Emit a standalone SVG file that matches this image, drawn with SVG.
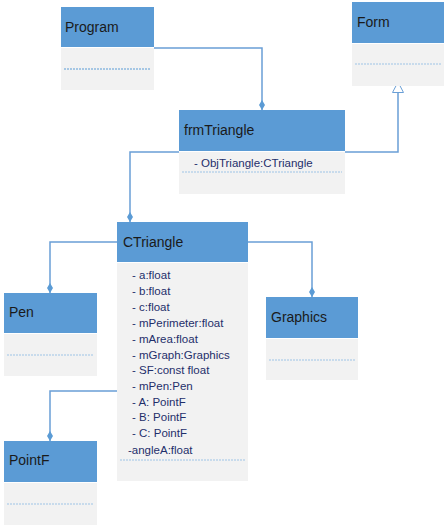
<svg xmlns="http://www.w3.org/2000/svg" width="447" height="527" viewBox="0 0 447 527">
<defs>
<style>
.hd{fill:#5B9BD5}
.bd{fill:#F2F2F2}
.ht{font-family:"Liberation Sans",Arial,sans-serif;font-size:14px;fill:#1a1a1a}
.at{font-family:"Liberation Sans",Arial,sans-serif;font-size:11.5px;fill:#1F2F6B}
.dl{stroke:#9DC3E6;stroke-width:1.2;stroke-dasharray:2 1;fill:none}
.cn{stroke:#6A9FD6;stroke-width:1.5;fill:none}
.dm{fill:#5B9BD5}
</style>
<marker id="dia" viewBox="0 0 10 6" refX="10" refY="3" markerWidth="10" markerHeight="6" markerUnits="userSpaceOnUse" orient="auto">
<path d="M0,3 L5,0 L10,3 L5,6 Z" fill="#5B9BD5"/>
</marker>
<marker id="tri" viewBox="0 0 10 12" refX="6" refY="6" markerWidth="10" markerHeight="12" markerUnits="userSpaceOnUse" orient="auto">
<path d="M0.5,0.5 L11,6 L0.5,11.5 Z" fill="#fff" stroke="#6A9FD6" stroke-width="1"/>
</marker>
</defs>
<g id="connectors">
<path class="cn" d="M154,48 H262 V110" marker-end="url(#dia)"/>
<path class="cn" d="M345,152 H398 V87" marker-end="url(#tri)"/>
<path class="cn" d="M179,152 H130 V222" marker-end="url(#dia)"/>
<path class="cn" d="M117,242 H50 V293" marker-end="url(#dia)"/>
<path class="cn" d="M248,242 H312 V297" marker-end="url(#dia)"/>
<path class="cn" d="M117,391 H50 V441" marker-end="url(#dia)"/>
</g>
<g id="Program">
<rect class="hd" x="61" y="7" width="93" height="40"/>
<rect class="bd" x="61" y="48" width="93" height="42"/>
<text class="ht" x="65" y="32">Program</text>
<line class="dl" x1="64" y1="69" x2="150" y2="69" style="stroke:#5B9BD5"/>
</g>
<g id="Form">
<rect class="hd" x="352" y="2" width="92" height="41"/>
<rect class="bd" x="352" y="44" width="92" height="42"/>
<text class="ht" x="357" y="27">Form</text>
<line class="dl" x1="355" y1="64" x2="441" y2="64"/>
</g>
<g id="frmTriangle">
<rect class="hd" x="179" y="110" width="166" height="41"/>
<rect class="bd" x="179" y="152" width="166" height="42"/>
<text class="ht" x="184" y="135">frmTriangle</text>
<text class="at" x="194" y="167">- ObjTriangle:CTriangle</text>
<line class="dl" x1="182" y1="172" x2="342" y2="172"/>
</g>
<g id="CTriangle">
<rect class="hd" x="117" y="222" width="131" height="40"/>
<rect class="bd" x="117" y="263" width="131" height="218"/>
<text class="ht" x="123" y="247">CTriangle</text>
<g class="at">
<text x="132" y="279">- a:float</text>
<text x="132" y="295">- b:float</text>
<text x="132" y="311">- c:float</text>
<text x="132" y="327">- mPerimeter:float</text>
<text x="132" y="343">- mArea:float</text>
<text x="132" y="359">- mGraph:Graphics</text>
<text x="132" y="374">- SF:const float</text>
<text x="132" y="390">- mPen:Pen</text>
<text x="132" y="406">- A: PointF</text>
<text x="132" y="421">- B: PointF</text>
<text x="132" y="437">- C: PointF</text>
<text x="128" y="454">-angleA:float</text>
</g>
<line class="dl" x1="120" y1="460" x2="245" y2="460"/>
</g>
<g id="Pen">
<rect class="hd" x="4" y="293" width="93" height="40"/>
<rect class="bd" x="4" y="334" width="93" height="42"/>
<text class="ht" x="9" y="317">Pen</text>
<line class="dl" x1="7" y1="355" x2="94" y2="355"/>
</g>
<g id="Graphics">
<rect class="hd" x="266" y="297" width="92" height="41"/>
<rect class="bd" x="266" y="339" width="92" height="41"/>
<text class="ht" x="271" y="322">Graphics</text>
<line class="dl" x1="269" y1="360" x2="355" y2="360"/>
</g>
<g id="PointF">
<rect class="hd" x="4" y="441" width="93" height="41"/>
<rect class="bd" x="4" y="483" width="93" height="42"/>
<text class="ht" x="9" y="465">PointF</text>
<line class="dl" x1="7" y1="504" x2="94" y2="504"/>
</g>
</svg>
